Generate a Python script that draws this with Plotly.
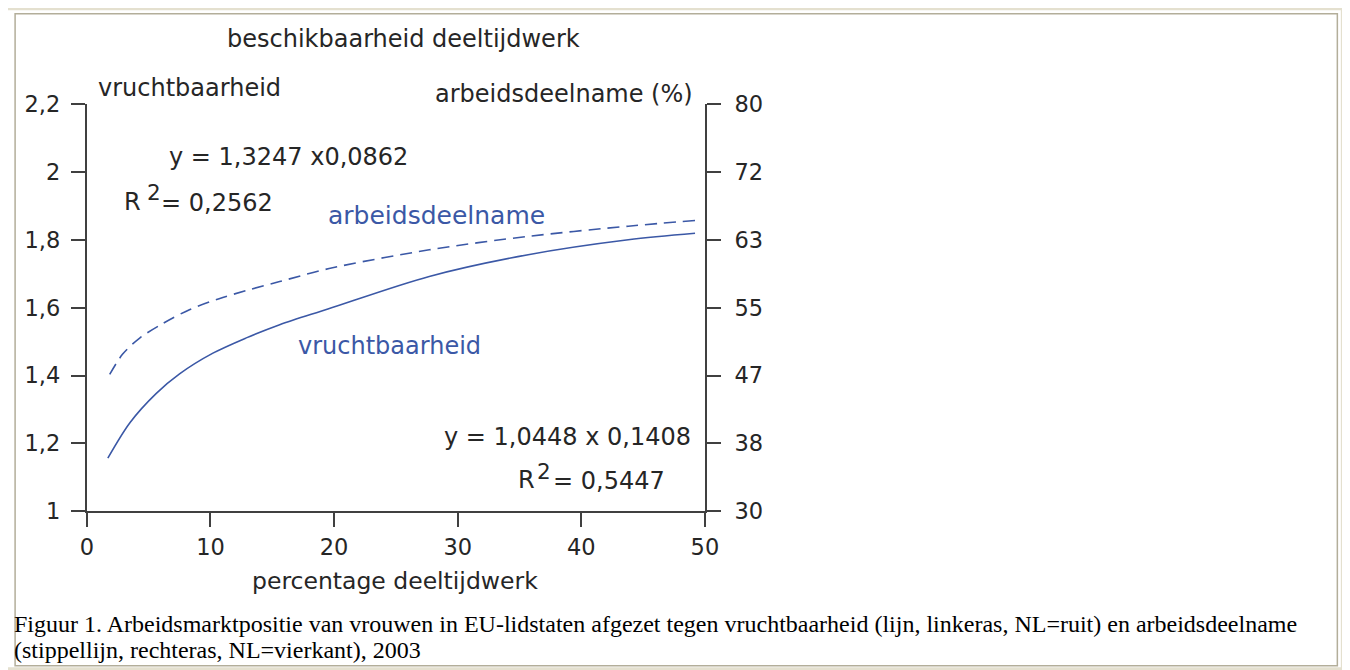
import plotly.graph_objects as go

# ---- data ----
x_fert = [1.7, 3.5, 5.6, 7.5, 10.2, 12.9, 15.6, 19.5, 27.7, 35.7, 43.8, 49.2]
fert = [1.157, 1.262, 1.347, 1.405, 1.466, 1.511, 1.550, 1.596, 1.692, 1.756, 1.800, 1.819]

x_labor = [1.85, 2.9, 4.3, 6.2, 8.3, 10.7, 12.9, 15.6, 19.6, 27.7, 35.7, 43.8, 49.2]
labor = [46.8, 49.3, 51.3, 53.1, 54.75, 56.1, 57.1, 58.2, 59.8, 62.1, 63.75, 65.0, 65.7]

x_ticks = [0, 10, 20, 30, 40, 50]
left_ticks = [1, 1.2, 1.4, 1.6, 1.8, 2, 2.2]
left_labels = ["1", "1,2", "1,4", "1,6", "1,8", "2", "2,2"]
right_ticks = [30, 38.33, 46.67, 55, 63.33, 71.67, 80]
right_labels = ["30", "38", "47", "55", "63", "72", "80"]

# layout helpers: convert target picture pixels to paper coordinates
OFF = 8
W, H = 1352, 676
AX_, BX_ = 7.0, 0.988
AY_, BY_ = 11.5, 0.963
def px(x):
    return ((x - AX_) / BX_ - OFF) / W
def py(y):
    return (H - ((y - AY_) / BY_ - OFF)) / H

BLUE = "#3b58a6"
TXT = "#262626"
AX = "#404040"
FONT = "DejaVu Sans"

fig = go.Figure()
fig.add_trace(go.Scatter(x=x_fert, y=fert, mode="lines", yaxis="y",
                         line=dict(color=BLUE, width=1.6, shape="spline", smoothing=0.9),
                         hoverinfo="skip"))
fig.add_trace(go.Scatter(x=x_labor, y=labor, mode="lines", yaxis="y2",
                         line=dict(color=BLUE, width=1.6, shape="spline", smoothing=0.9, dash="12px,7px"),
                         hoverinfo="skip"))

axis_common = dict(showgrid=False, zeroline=False, showline=True, linecolor=AX, linewidth=2,
                   ticks="outside", ticklen=14, tickwidth=2, tickcolor=AX,
                   tickfont=dict(family=FONT, size=22.5, color=TXT))

fig.update_layout(
    width=W, height=H,
    margin=dict(l=0, r=0, t=0, b=0),
    paper_bgcolor="white", plot_bgcolor="white",
    showlegend=False,
    xaxis=dict(range=[0, 50], domain=[px(87), px(707.3)], tickvals=x_ticks,
               ticktext=[str(v) for v in x_ticks], anchor="y", ticklabelstandoff=1, **axis_common),
    yaxis=dict(range=[1, 2.2], domain=[py(510.3), py(102.3)], tickvals=left_ticks,
               ticktext=left_labels, anchor="x", side="left", ticklabelstandoff=6, **axis_common),
    yaxis2=dict(range=[30, 80], overlaying="y", side="right", anchor="x", tickvals=right_ticks,
                ticktext=right_labels, ticklabelstandoff=9, **axis_common),
)

def ann(text, x, y, xanchor="center", size=23, color=TXT, family=FONT):
    fig.add_annotation(text=text, x=px(x), y=py(y), xref="paper", yref="paper",
                       xanchor=xanchor, yanchor="middle", showarrow=False,
                       font=dict(family=family, size=size, color=color))

ann("beschikbaarheid deeltijdwerk", 226, 37, "left", size=24)
ann("vruchtbaarheid", 96, 86, "left", size=24)
ann("arbeidsdeelname (%)", 697, 92, "right", size=24)
ann("y = 1,3247 x0,0862", 167, 155, "left", size=24)
ann("R", 122, 200, "left", size=24)
ann("2", 145, 191, "left", size=21.5)
ann("= 0,2562", 159, 201, "left", size=24)
ann("arbeidsdeelname", 327, 214, "left", size=25, color=BLUE)
ann("vruchtbaarheid", 297, 345, "left", size=24, color=BLUE)
ann("y = 1,0448 x 0,1408", 695, 436, "right", size=24)
ann("R", 518, 479, "left", size=24)
ann("2", 537, 470, "left", size=21.5)
ann("= 0,5447", 553, 480, "left", size=24)
ann("percentage deeltijdwerk", 396, 580, "center", size=23.5)

ann("Figuur 1. Arbeidsmarktpositie van vrouwen in EU-lidstaten afgezet tegen vruchtbaarheid (lijn, linkeras, NL=ruit) en arbeidsdeelname",
    12, 623, "left", size=24, color="#000000", family="Liberation Serif")
ann("(stippellijn, rechteras, NL=vierkant), 2003",
    12, 649, "left", size=24, color="#000000", family="Liberation Serif")

# frame
fig.add_shape(type="rect", xref="paper", yref="paper", x0=px(6), x1=px(1347), y0=py(668), y1=py(7),
              line=dict(color="#e4e0cf", width=3), fillcolor="rgba(0,0,0,0)", layer="below")
fig.add_shape(type="rect", xref="paper", yref="paper", x0=px(15), x1=px(1342), y0=py(665), y1=py(12),
              line=dict(color="#b3ae9a", width=1.5), fillcolor="rgba(0,0,0,0)", layer="below")

fig.write_html("out.html", config={"displayModeBar": False})
